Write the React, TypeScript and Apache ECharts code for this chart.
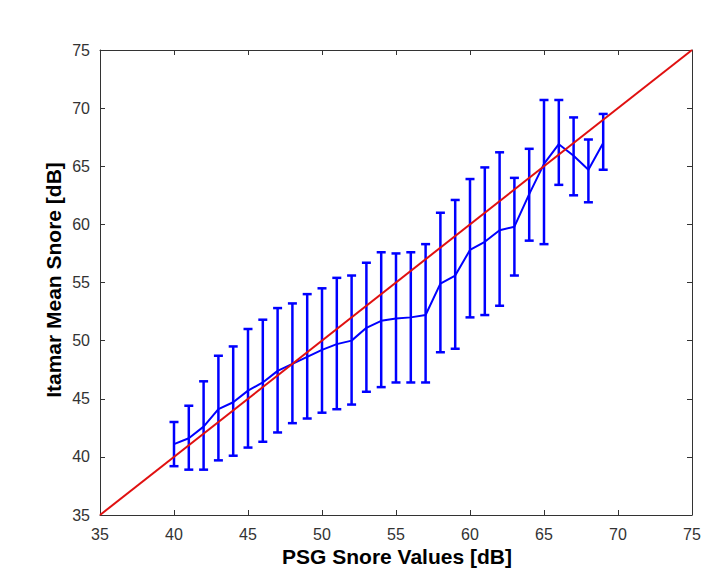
import React, { useEffect, useRef } from "react";
import * as echarts from "echarts";

const psgValues = [40, 41, 42, 43, 44, 45, 46, 47, 48, 49, 50, 51, 52, 53, 54, 55, 56, 57, 58, 59, 60, 61, 62, 63, 64, 65, 66, 67, 68, 69];
const meanSnore = [41.1, 41.6, 42.6, 44.1, 44.7, 45.7, 46.4, 47.4, 48.0, 48.6, 49.2, 49.7, 50.0, 51.1, 51.7, 51.9, 52.0, 52.2, 54.9, 55.6, 57.8, 58.5, 59.5, 59.8, 62.6, 65.2, 66.9, 65.9, 64.7, 67.0];
const upperSnore = [43.0, 44.4, 46.5, 48.7, 49.5, 51.0, 51.8, 52.8, 53.2, 54.0, 54.5, 55.4, 55.6, 56.7, 57.6, 57.5, 57.6, 58.3, 61.0, 62.1, 63.9, 64.9, 66.2, 64.0, 66.5, 70.7, 70.7, 69.2, 67.3, 69.5];
const lowerSnore = [39.2, 38.9, 38.9, 39.7, 40.1, 40.8, 41.3, 42.1, 42.9, 43.3, 43.8, 44.1, 44.5, 45.6, 46.0, 46.4, 46.4, 46.4, 49.0, 49.3, 52.0, 52.2, 53.0, 55.6, 58.6, 58.3, 63.4, 62.5, 61.9, 64.7];
const identityLine = [[35, 35], [75, 75]];
const axisMin = 35;
const axisMax = 75;
const axisStep = 5;
const xTitle = "PSG Snore Values [dB]";
const yTitle = "Itamar Mean Snore [dB]";

export default function App() {
  const ref = useRef<HTMLDivElement>(null);
  useEffect(() => {
    if (!ref.current) return;
    const chart = echarts.init(ref.current, null, { renderer: "svg" });
    const blue = "#0000ff";
    const axisColor = "#333333";
    const labelStyle = { color: "#333333", fontSize: 16, fontFamily: "Liberation Sans" };
    const baseAxis = {
      type: "value" as const,
      min: axisMin,
      max: axisMax,
      interval: axisStep,
      splitLine: { show: false },
      axisLine: { show: true, lineStyle: { color: axisColor, width: 1 } },
      axisTick: { show: true, inside: true, length: 5, lineStyle: { color: axisColor } },
    };
    const errData = psgValues.map((x, i) => [x, lowerSnore[i], upperSnore[i]]);
    chart.setOption({
      animation: false,
      backgroundColor: "#ffffff",
      grid: { left: 100, right: 12, top: 50, bottom: 56, containLabel: false },
      xAxis: [
        { ...baseAxis, position: "bottom", axisLabel: { ...labelStyle, margin: 11 } },
        { ...baseAxis, position: "top", axisLabel: { show: false } },
      ],
      yAxis: [
        { ...baseAxis, position: "left", axisLabel: { ...labelStyle, margin: 10 } },
        { ...baseAxis, position: "right", axisLabel: { show: false } },
      ],
      series: [
        {
          type: "custom",
          data: errData,
          encode: { x: 0, y: [1, 2] },
          renderItem: (params: any, api: any) => {
            const x = api.value(0);
            const lo = api.coord([x, api.value(1)]);
            const hi = api.coord([x, api.value(2)]);
            const hw = 4.5;
            const st = { stroke: blue, lineWidth: 2.5, fill: "none" };
            return {
              type: "group",
              children: [
                { type: "line", shape: { x1: hi[0], y1: hi[1], x2: lo[0], y2: lo[1] }, style: st },
                { type: "line", shape: { x1: hi[0] - hw, y1: hi[1], x2: hi[0] + hw, y2: hi[1] }, style: st },
                { type: "line", shape: { x1: lo[0] - hw, y1: lo[1], x2: lo[0] + hw, y2: lo[1] }, style: st },
              ],
            };
          },
          z: 2,
        },
        {
          type: "line",
          data: psgValues.map((x, i) => [x, meanSnore[i]]),
          showSymbol: false,
          symbol: "none",
          lineStyle: { color: blue, width: 2 },
          z: 3,
        },
        {
          type: "line",
          data: identityLine,
          showSymbol: false,
          symbol: "none",
          lineStyle: { color: "#e01010", width: 2 },
          z: 4,
        },
      ],
      graphic: [
        {
          type: "text",
          x: 397,
          y: 556,
          style: {
            text: xTitle,
            fontSize: 21,
            fontWeight: "bold",
            fontFamily: "Liberation Sans",
            fill: "#000000",
            textAlign: "center",
            textVerticalAlign: "middle",
          },
        },
        {
          type: "text",
          x: 53,
          y: 280,
          rotation: Math.PI / 2,
          style: {
            text: yTitle,
            fontSize: 21,
            fontWeight: "bold",
            fontFamily: "Liberation Sans",
            fill: "#000000",
            textAlign: "center",
            textVerticalAlign: "middle",
          },
        },
      ],
    });
    return () => chart.dispose();
  }, []);
  return (
    <div
      ref={ref}
      style={{ position: "fixed", left: 0, top: 0, width: 704, height: 571, background: "#fff" }}
    />
  );
}
